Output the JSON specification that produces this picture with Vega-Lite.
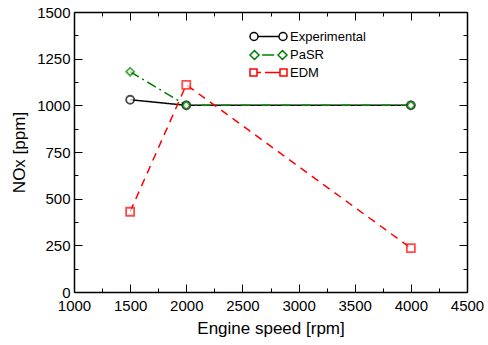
{
  "$schema": "https://vega.github.io/schema/vega-lite/v6.json",
  "autosize": "none",
  "width": 393,
  "height": 280,
  "padding": {"left": 74, "top": 12, "right": 21, "bottom": 53},
  "background": "white",
  "config": {
    "view": {"stroke": null},
    "font": "Liberation Sans",
    "axis": {
      "domainColor": "black", "domainWidth": 1.5, "tickColor": "black", "tickWidth": 1,
      "labelColor": "black", "titleColor": "black", "labelFont": "Liberation Sans", "titleFont": "Liberation Sans",
      "labelFontSize": 15, "titleFontSize": 17, "titleFontWeight": "normal", "grid": false
    }
  },
  "data": {"values": [
    {"series": "Experimental", "rpm": 1500, "nox": 1030},
    {"series": "Experimental", "rpm": 2000, "nox": 1000},
    {"series": "Experimental", "rpm": 4000, "nox": 1000},
    {"series": "PaSR", "rpm": 1500, "nox": 1180},
    {"series": "PaSR", "rpm": 2000, "nox": 1000},
    {"series": "PaSR", "rpm": 4000, "nox": 1000},
    {"series": "EDM", "rpm": 1500, "nox": 430},
    {"series": "EDM", "rpm": 2000, "nox": 1110},
    {"series": "EDM", "rpm": 4000, "nox": 235}
  ]},
  "layer": [
    {
      "mark": {"type": "line", "strokeWidth": 1.5},
      "encoding": {
        "x": {"field": "rpm", "type": "quantitative", "scale": {"domain": [1000, 4500], "nice": false, "zero": false},
          "axis": {"orient": "bottom", "title": "Engine speed [rpm]", "values": [1000,1250,1500,1750,2000,2250,2500,2750,3000,3250,3500,3750,4000,4250,4500],
            "labelExpr": "datum.value % 500 === 0 ? datum.label : ''", "format": "d", "labelFlush": false, "labelOverlap": false,
            "tickSize": {"condition": {"test": "datum.value % 500 === 0", "value": -8}, "value": -4},
            "labelPadding": 14, "titlePadding": 3}},
        "y": {"field": "nox", "type": "quantitative", "scale": {"domain": [0, 1500], "nice": false},
          "axis": {"orient": "left", "title": "NOx [ppm]", "values": [0,125,250,375,500,625,750,875,1000,1125,1250,1375,1500],
            "labelExpr": "datum.value % 250 === 0 ? datum.label : ''", "format": "d", "labelFlush": false, "labelOverlap": false,
            "tickSize": {"condition": {"test": "datum.value % 250 === 0", "value": -8}, "value": -4},
            "labelPadding": 12, "titlePadding": 8}},
        "color": {"field": "series", "type": "nominal",
          "scale": {"domain": ["Experimental", "PaSR", "EDM"], "range": ["#000000", "#008000", "#ff0000"]}, "legend": null},
        "strokeDash": {"field": "series", "type": "nominal",
          "scale": {"domain": ["Experimental", "PaSR", "EDM"], "range": [[1, 0], [10, 4, 2, 4], [8, 6]]}, "legend": null}
      }
    },
    {
      "mark": {"type": "point", "filled": true, "fill": "white", "size": 64, "strokeWidth": 1.8},
      "encoding": {
        "x": {"field": "rpm", "type": "quantitative", "axis": null},
        "y": {"field": "nox", "type": "quantitative", "axis": null},
        "stroke": {"field": "series", "type": "nominal",
          "scale": {"domain": ["Experimental", "PaSR", "EDM"], "range": ["#000000", "#008000", "#ff0000"]}, "legend": null},
        "shape": {"field": "series", "type": "nominal",
          "scale": {"domain": ["Experimental", "PaSR", "EDM"], "range": ["circle", "diamond", "square"]}, "legend": null}
      }
    },
    {
      "mark": {"type": "line", "opacity": 0},
      "encoding": {
        "x": {"field": "rpm", "type": "quantitative", "scale": {"domain": [1000, 4500], "nice": false, "zero": false},
          "axis": {"orient": "top", "title": null, "values": [1000,1250,1500,1750,2000,2250,2500,2750,3000,3250,3500,3750,4000,4250,4500],
            "labels": false, "tickSize": {"condition": {"test": "datum.value % 500 === 0", "value": -8}, "value": -4}}},
        "y": {"field": "nox", "type": "quantitative", "scale": {"domain": [0, 1500], "nice": false},
          "axis": {"orient": "right", "title": null, "values": [0,125,250,375,500,625,750,875,1000,1125,1250,1375,1500],
            "labels": false, "tickSize": {"condition": {"test": "datum.value % 250 === 0", "value": -8}, "value": -4}}},
        "detail": {"field": "series"}
      }
    },
    {
      "mark": {"type": "point", "opacity": 0, "filled": false},
      "encoding": {
        "x": {"field": "rpm", "type": "quantitative", "axis": null},
        "y": {"field": "nox", "type": "quantitative", "axis": null},
        "color": {"field": "series", "type": "nominal",
          "scale": {"domain": ["Experimental", "PaSR", "EDM"], "range": ["#000000", "#008000", "#ff0000"]},
          "legend": {"title": null, "orient": "none", "legendX": 188, "legendY": 18, "padding": 0, "offset": 0,
            "labelFontSize": 13, "labelFont": "Liberation Sans", "labelColor": "black",
            "symbolSize": 64, "symbolStrokeWidth": 1.5, "symbolOpacity": 1, "rowPadding": 3.5, "labelOffset": 15}},
        "shape": {"field": "series", "type": "nominal",
          "scale": {"domain": ["Experimental", "PaSR", "EDM"], "range": [
            "M -4.625 0 A 1 1 0 1 0 -2.625 0 A 1 1 0 1 0 -4.625 0 M -2.625 0 L 2.625 0 M 2.625 0 A 1 1 0 1 0 4.625 0 A 1 1 0 1 0 2.625 0",
            "M -4.625 0 L -3.5 -1.125 L -2.375 0 L -3.5 1.125 Z M -1.6 0 L 1.4 0 M 2.375 0 L 3.5 -1.125 L 4.625 0 L 3.5 1.125 Z",
            "M -4.625 -0.875 L -2.875 -0.875 L -2.875 0.875 L -4.625 0.875 Z M -2.875 0 L -1.9 0 M -0.9 0 L 2.875 0 M 2.875 -0.875 L 4.625 -0.875 L 4.625 0.875 L 2.875 0.875 Z"
          ]}}
      }
    }
  ],
  "resolve": {"axis": {"x": "independent", "y": "independent"}, "scale": {"shape": "independent", "color": "independent"}}
}
